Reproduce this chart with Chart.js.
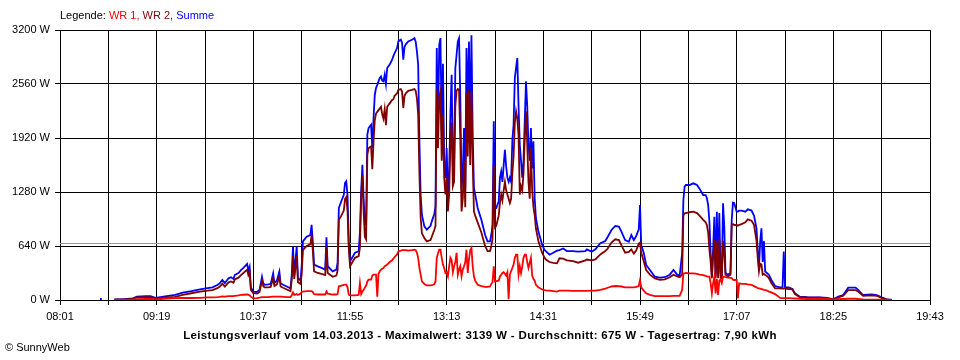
<!DOCTYPE html>
<html>
<head>
<meta charset="utf-8">
<script src="https://cdn.jsdelivr.net/npm/chart.js@4/dist/chart.umd.min.js"></script>
<style>
  body { margin: 0; background: #fff; }
  #wrap { position: relative; width: 960px; height: 360px; font-family: "Liberation Sans", Arial, sans-serif; font-size: 11px; color: #000; }
  #wrap div { position: absolute; white-space: nowrap; line-height: 13px; }
  #legende { left: 60px; top: 9px; }
  #fuss { left: 0; width: 960px; top: 329px; text-align: center; font-weight: bold; font-size: 11.5px; letter-spacing: 0.35px; }
  #copy { left: 5px; top: 341px; }
</style>
</head>
<body>
<div id="wrap">
  <canvas id="leistung" width="960" height="360"></canvas>
  <div id="legende">Legende: <span style="color:#ff0000">WR 1,</span> <span style="color:#800000">WR 2,</span> <span style="color:#0000ff">Summe</span></div>
  <div id="fuss"></div>
  <div id="copy">&copy; SunnyWeb</div>
</div>
<script>
// Tageswerte 14.03.2013
var datum = '14.03.2013';
var maximalwert = 3139;
var durchschnitt = 675;
var tagesertrag = '7,90';

var zeitTicks = ['08:01', '09:19', '10:37', '11:55', '13:13', '14:31', '15:49', '17:07', '18:25', '19:43'];
var wattTicks = [0, 640, 1280, 1920, 2560, 3200];

var zeiten = [
  '08:34', '08:34', '08:35', '08:45', '08:53', '09:00', '09:03', '09:10', '09:14', '09:18',
  '09:22', '09:27', '09:34', '09:40', '09:47', '09:54', '10:00', '10:04', '10:08', '10:10',
  '10:12', '10:14', '10:17', '10:19', '10:21', '10:22', '10:25', '10:27', '10:29', '10:32',
  '10:33', '10:34', '10:35', '10:37', '10:40', '10:42', '10:44', '10:45', '10:46', '10:49',
  '10:51', '10:53', '10:54', '10:56', '10:58', '10:59', '11:01', '11:04', '11:07', '11:08',
  '11:09', '11:10', '11:12', '11:13', '11:15', '11:16', '11:17', '11:20', '11:23', '11:24',
  '11:25', '11:26', '11:29', '11:32', '11:35', '11:36', '11:37', '11:41', '11:44', '11:45',
  '11:46', '11:48', '11:50', '11:51', '11:52', '11:53', '11:54', '11:55', '11:59', '12:02',
  '12:03', '12:04', '12:05', '12:06', '12:07', '12:08', '12:09', '12:10', '12:12', '12:13',
  '12:14', '12:15', '12:16', '12:17', '12:18', '12:19', '12:20', '12:21', '12:22', '12:23',
  '12:24', '12:25', '12:27', '12:29', '12:30', '12:31', '12:33', '12:34', '12:36', '12:37',
  '12:38', '12:39', '12:40', '12:42', '12:45', '12:47', '12:48', '12:49', '12:50', '12:51',
  '12:52', '12:53', '12:55', '12:57', '13:00', '13:01', '13:03', '13:04', '13:05', '13:06',
  '13:07', '13:08', '13:09', '13:10', '13:11', '13:12', '13:13', '13:14', '13:15', '13:16',
  '13:17', '13:18', '13:19', '13:20', '13:21', '13:22', '13:23', '13:24', '13:25', '13:26',
  '13:27', '13:28', '13:29', '13:30', '13:31', '13:32', '13:33', '13:34', '13:35', '13:36',
  '13:38', '13:41', '13:44', '13:46', '13:48', '13:49', '13:50', '13:51', '13:52', '13:53',
  '13:55', '13:56', '13:57', '13:58', '13:59', '14:00', '14:01', '14:02', '14:03', '14:04',
  '14:05', '14:06', '14:07', '14:08', '14:09', '14:10', '14:11', '14:12', '14:13', '14:14',
  '14:15', '14:16', '14:17', '14:18', '14:19', '14:20', '14:21', '14:22', '14:23', '14:24',
  '14:25', '14:27', '14:30', '14:32', '14:33', '14:36', '14:39', '14:42', '14:44', '14:47',
  '14:50', '14:55', '14:59', '15:05', '15:06', '15:10', '15:13', '15:17', '15:21', '15:23',
  '15:26', '15:29', '15:32', '15:34', '15:37', '15:40', '15:42', '15:44', '15:46', '15:48',
  '15:49', '15:50', '15:52', '15:54', '15:57', '16:01', '16:05', '16:09', '16:13', '16:16',
  '16:19', '16:21', '16:23', '16:24', '16:25', '16:26', '16:29', '16:32', '16:35', '16:37',
  '16:40', '16:42', '16:43', '16:44', '16:45', '16:46', '16:47', '16:48', '16:49', '16:50',
  '16:51', '16:52', '16:53', '16:54', '16:55', '16:56', '16:57', '16:58', '17:00', '17:02',
  '17:03', '17:04', '17:05', '17:07', '17:08', '17:09', '17:11', '17:14', '17:16', '17:19',
  '17:21', '17:23', '17:24', '17:25', '17:26', '17:27', '17:28', '17:29', '17:30', '17:31',
  '17:33', '17:35', '17:38', '17:42', '17:44', '17:45', '17:46', '17:49', '17:52', '17:54',
  '17:58', '18:04', '18:14', '18:20', '18:25', '18:29', '18:33', '18:37', '18:43', '18:45',
  '18:49', '18:56', '19:00', '19:04', '19:08', '19:12'
];

var wr1 = [
  null, null, null, 2, 2, 5, 10, 12, 12, 8,
  12, 18, 22, 24, 24, 26, 32, 32, 35, 38,
  42, 40, 45, 47, 47, 50, 55, 60, 62, 65,
  60, 55, 40, 20, 22, 28, 35, 35, 35, 35,
  38, 40, 40, 40, 40, 40, 38, 35, 35, 55,
  90, 60, 70, 60, 75, 95, 100, 105, 105, 105,
  95, 70, 65, 65, 65, 103, 75, 65, 65, 70,
  162, 170, 180, 182, 182, 150, 63, 55, 55, 60,
  201, 70, 100, 120, 150, 170, 220, 241, 241, 290,
  300, 300, 300, 40, 310, 340, 360, 370, 380, 400,
  410, 420, 450, 470, 490, 510, 540, 575, 584, 590,
  590, 590, 590, 585, 590, 596, 590, 560, 500, 380,
  300, 220, 190, 174, 174, 175, 185, 220, 498, 550,
  596, 596, 500, 420, 380, 320, 330, 280, 400, 500,
  470, 330, 400, 450, 560, 300, 360, 400, 280, 360,
  400, 450, 596, 320, 480, 590, 616, 400, 280, 230,
  180, 165, 155, 155, 160, 190, 210, 400, 220, 225,
  230, 280, 300, 320, 330, 310, 290, 330, 10, 300,
  340, 380, 420, 500, 537, 537, 300, 400, 320, 400,
  500, 537, 537, 450, 380, 440, 500, 290, 250, 230,
  180, 150, 125, 118, 115, 110, 105, 100, 110, 110,
  110, 108, 108, 108, 108, 110, 110, 120, 135, 145,
  160, 166, 163, 160, 150, 150, 150, 150, 155, 166,
  237, 150, 110, 79, 60, 47, 47, 47, 47, 50,
  50, 50, 120, 316, 316, 320, 316, 316, 310, 300,
  295, 285, 280, 276, 276, 200, 79, 200, 276, 79,
  250, 60, 230, 240, 200, 276, 276, 270, 265, 262,
  260, 240, 237, 237, 20, 197, 190, 190, 185, 180,
  165, 150, 140, 138, 135, 130, 125, 120, 118, 115,
  100, 90, 70, 25, 22, 22, 22, 22, 20, 18,
  15, 12, 15, 12, 5, 10, 12, 15, 15, 12,
  8, 5, 5, 4, 2, 1
];

var wr2 = [
  null, null, null, 6, 8, 15, 30, 35, 33, 18,
  25, 30, 38, 62, 80, 100, 110, 118, 140, 160,
  195, 160, 210, 220, 205, 245, 265, 295, 320, 360,
  295, 330, 120, 80, 75, 95, 230, 165, 150, 150,
  155, 260, 165, 185, 280, 160, 145, 125, 105, 240,
  520, 250, 520, 210, 190, 300, 590, 640, 660, 760,
  590, 340, 320, 310, 295, 620, 320, 275, 290, 350,
  950, 1000, 1060, 1200, 1220, 1050, 620, 400, 500, 520,
  620, 1200, 1480, 1050, 750, 720, 1720, 1800, 1820, 1550,
  1880, 2130, 2210, 2230, 2250, 2270, 2290, 2200, 2150, 2260,
  2073, 2290, 2330, 2370, 2380, 2420, 2450, 2490, 2500, 2470,
  2275, 2420, 2450, 2480, 2490, 2500, 2480, 2390, 2200, 1500,
  980, 790, 735, 695, 710, 750, 830, 880, 2490, 1800,
  2400, 2470, 1650, 2200, 1450, 1250, 1450, 1050, 1250, 1850,
  2100, 1350, 1400, 2300, 2480, 2500, 2490, 1900, 1050, 1200,
  1650, 1100, 2450, 1700, 2490, 1600, 2480, 1650, 1050, 1000,
  920, 800, 640, 580, 580, 640, 720, 1600, 860, 880,
  1000, 1150, 1250, 1180, 1300, 1400, 1300, 1250, 1200, 1150,
  1200, 1500, 1700, 2100, 2236, 2150, 1950, 1250, 1350, 1300,
  1500, 1900, 2236, 1850, 1400, 1200, 1800, 1300, 1100, 1010,
  850, 700, 560, 500, 480, 450, 440, 435, 494, 490,
  470, 460, 442, 470, 480, 470, 480, 540, 580, 610,
  680, 719, 710, 650, 560, 570, 600, 550, 590, 670,
  680, 560, 460, 355, 300, 257, 240, 245, 270, 300,
  280, 270, 300, 1000, 1027, 1030, 1040, 1047, 1030, 1000,
  950, 920, 889, 800, 600, 450, 257, 500, 711, 257,
  690, 257, 720, 260, 257, 700, 550, 300, 280, 300,
  889, 900, 889, 889, 880, 890, 900, 920, 956, 940,
  890, 700, 500, 340, 430, 420, 300, 310, 296, 290,
  260, 200, 138, 138, 135, 135, 135, 130, 125, 70,
  35, 30, 28, 20, 5, 30, 50, 118, 118, 100,
  50, 55, 50, 25, 6, 2
];

var summe = [
  0, 25, null, 8, 10, 20, 40, 47, 45, 25,
  35, 47, 60, 87, 105, 126, 142, 150, 178, 200,
  237, 200, 257, 270, 250, 296, 320, 355, 380, 427,
  350, 395, 150, 99, 95, 120, 276, 200, 180, 185,
  190, 316, 200, 230, 336, 200, 180, 160, 138, 300,
  630, 300, 632, 260, 230, 400, 695, 750, 770, 890,
  690, 420, 399, 380, 360, 743, 400, 340, 360, 440,
  1090, 1170, 1248, 1387, 1406, 1240, 695, 458, 560, 577,
  800, 1288, 1603, 1200, 892, 900, 1959, 2038, 2077, 1800,
  2157, 2433, 2512, 2550, 2591, 2631, 2650, 2600, 2591, 2670,
  2560, 2749, 2790, 2848, 2890, 2927, 2986, 3065, 3085, 3050,
  2848, 3000, 3030, 3065, 3085, 3104, 3060, 2947, 2789, 1880,
  1248, 1011, 873, 833, 880, 932, 1020, 1110, 2986, 2000,
  3025, 3104, 2000, 2800, 1643, 1446, 1800, 1248, 1500, 2196,
  2670, 1600, 1643, 2750, 2907, 3065, 3104, 2400, 1327, 1500,
  2038, 1327, 2986, 2200, 3065, 1950, 3139, 1950, 1327, 1250,
  1090, 950, 774, 695, 695, 770, 892, 2117, 1090, 1090,
  1169, 1450, 1524, 1400, 1600, 1781, 1580, 1450, 1400, 1450,
  1400, 1900, 2077, 2631, 2750, 2868, 2300, 1840, 1650, 1450,
  1650, 2117, 2591, 2300, 1840, 1650, 2038, 1560, 1880, 1209,
  972, 814, 655, 592, 580, 537, 560, 585, 592, 610,
  580, 580, 573, 580, 600, 573, 600, 672, 700, 750,
  830, 877, 870, 810, 711, 690, 770, 711, 760, 838,
  1126, 650, 560, 415, 355, 276, 265, 270, 300, 355,
  300, 290, 553, 1185, 1343, 1363, 1363, 1383, 1363, 1320,
  1244, 1244, 1205, 1126, 930, 560, 276, 600, 987, 276,
  1047, 300, 1030, 320, 276, 1146, 870, 320, 300, 320,
  950, 1154, 1150, 1047, 1047, 1060, 1060, 1047, 1074, 1060,
  1000, 849, 592, 380, 700, 849, 450, 700, 336, 325,
  300, 237, 166, 150, 150, 573, 150, 150, 130, 79,
  40, 35, 32, 25, 8, 40, 59, 146, 146, 120,
  59, 67, 59, 32, 8, 3
];

function zuMinuten(t) {
  var p = t.split(':');
  return parseInt(p[0], 10) * 60 + parseInt(p[1], 10);
}

function zuZeit(m) {
  var h = Math.floor(m / 60);
  var mm = m % 60;
  return (h < 10 ? '0' : '') + h + ':' + (mm < 10 ? '0' : '') + mm;
}

function punkte(werte) {
  return zeiten.map(function (t, i) {
    return { x: zuMinuten(t), y: werte[i] };
  });
}

var xMin = zuMinuten(zeitTicks[0]);
var xMax = zuMinuten(zeitTicks[zeitTicks.length - 1]);

document.getElementById('fuss').textContent =
  'Leistungsverlauf vom ' + datum + ' - Maximalwert: ' + maximalwert + ' W - Durchschnitt: ' +
  durchschnitt + ' W - Tagesertrag: ' + tagesertrag + ' kWh';

// graue Linie fuer den Durchschnittswert
var durchschnittLinie = {
  id: 'durchschnittLinie',
  beforeDatasetsDraw: function (chart) {
    var ctx = chart.ctx;
    var area = chart.chartArea;
    var y = Math.round(chart.scales.y.getPixelForValue(durchschnitt)) + 0.5;
    ctx.save();
    ctx.strokeStyle = '#999999';
    ctx.lineWidth = 1;
    ctx.beginPath();
    ctx.moveTo(area.left, y);
    ctx.lineTo(area.right, y);
    ctx.stroke();
    ctx.restore();
  }
};

Chart.defaults.font.family = '"Liberation Sans", Arial, sans-serif';
Chart.defaults.font.size = 11;
Chart.defaults.color = '#000000';

var ctx = document.getElementById('leistung').getContext('2d');

var myChartLeistung = new Chart(ctx, {
  type: 'line',
  data: {
    datasets: [
      { label: 'WR 1', data: punkte(wr1), borderColor: '#ff0000' },
      { label: 'WR 2', data: punkte(wr2), borderColor: '#800000' },
      { label: 'Summe', data: punkte(summe), borderColor: '#0000ff' }
    ]
  },
  options: {
    responsive: false,
    animation: false,
    events: [],
    layout: { padding: { top: 30, right: 30, left: 0, bottom: 0 } },
    elements: {
      point: { radius: 0 },
      line: { borderWidth: 1.8, tension: 0 }
    },
    plugins: {
      legend: { display: false },
      tooltip: { enabled: false }
    },
    scales: {
      x: {
        type: 'linear',
        min: xMin,
        max: xMax,
        afterFit: function (s) { s.height = 60; },
        afterBuildTicks: function (s) {
          var t = [];
          for (var m = xMin; m <= xMax; m += 39) t.push({ value: m });
          s.ticks = t;
        },
        ticks: {
          autoSkip: false,
          maxRotation: 0,
          padding: 5,
          callback: function (v) {
            var z = zuZeit(v);
            return zeitTicks.indexOf(z) >= 0 ? z : '';
          }
        },
        grid: { color: '#000000', lineWidth: 1, tickLength: 5, tickColor: '#000000' },
        border: { color: '#000000', width: 1 }
      },
      y: {
        min: wattTicks[0],
        max: wattTicks[wattTicks.length - 1],
        afterFit: function (s) { s.width = 60; },
        afterBuildTicks: function (s) {
          s.ticks = wattTicks.map(function (v) { return { value: v }; });
        },
        ticks: {
          padding: 5,
          callback: function (v) { return v + ' W'; }
        },
        grid: { color: '#000000', lineWidth: 1, tickLength: 5, tickColor: '#000000' },
        border: { color: '#000000', width: 1 }
      }
    }
  },
  plugins: [durchschnittLinie]
});
</script>
</body>
</html>
